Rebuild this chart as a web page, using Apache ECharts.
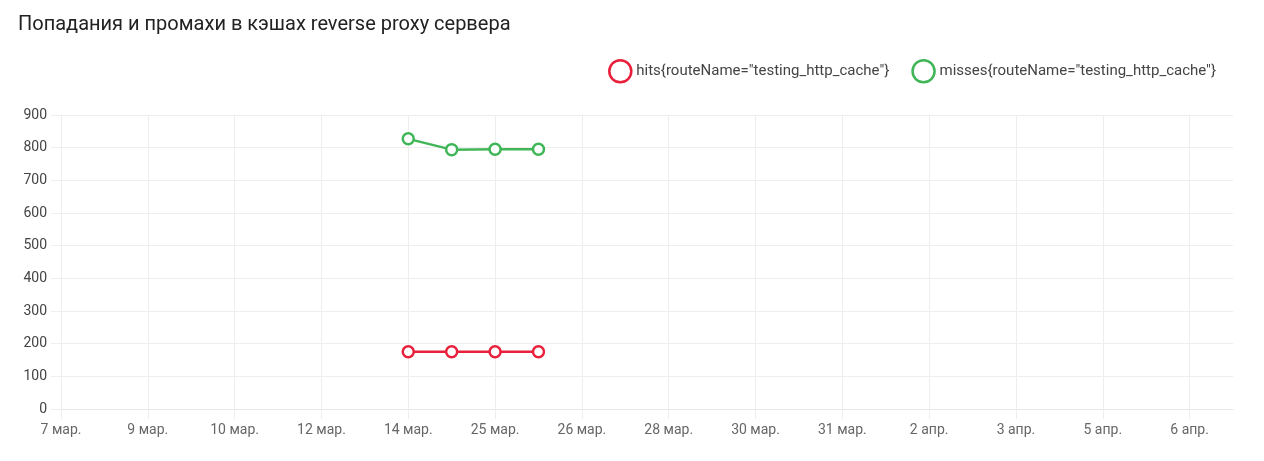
<!DOCTYPE html>
<html>
<head>
<meta charset="utf-8">
<script src="https://cdn.jsdelivr.net/npm/echarts@6/dist/echarts.min.js"></script>
<style>
  html, body {margin: 0; padding: 0; background: #fff;}
  #chart {width: 1264px; height: 461px;}
</style>
</head>
<body>
<div id="chart"></div>
<script>
// даты по оси X (подписаны только чётные)
const dates = [
    '7 мар.', '8 мар.', '9 мар.', '9 мар.', '10 мар.', '11 мар.', '12 мар.', '13 мар.',
    '14 мар.', '24 мар.', '25 мар.', '25 мар.', '26 мар.', '27 мар.', '28 мар.', '29 мар.',
    '30 мар.', '30 мар.', '31 мар.', '1 апр.', '2 апр.', '2 апр.', '3 апр.', '4 апр.',
    '5 апр.', '5 апр.', '6 апр.', '7 апр.'
];
const hitsName = 'hits{routeName="testing_http_cache"}';
const missesName = 'misses{routeName="testing_http_cache"}';
const hits = [null, null, null, null, null, null, null, null, 175, 175, 175, 175];
const misses = [null, null, null, null, null, null, null, null, 827, 794, 795, 795];
const yTicks = [0, 900, 100];

const red = '#e8203c';
const green = '#41b658';
const font = 'Roboto, sans-serif';

let chart = echarts.init(document.getElementById('chart'));

chart.setOption({
    animation: false,
    title: {
        text: 'Попадания и промахи в кэшах reverse proxy сервера',
        left: 13,
        top: 10,
        textStyle: {
            color: '#222',
            fontSize: 20,
            fontWeight: 'normal',
            fontFamily: font
        }
    },
    legend: {
        right: 43,
        top: 54,
        icon: 'circle',
        itemWidth: 22,
        itemHeight: 22,
        itemGap: 22,
        textStyle: {color: '#444', fontSize: 15, fontFamily: font},
        data: [
            {name: hitsName, itemStyle: {color: '#fff', borderColor: red, borderWidth: 2.5}},
            {name: missesName, itemStyle: {color: '#fff', borderColor: green, borderWidth: 2.5}}
        ]
    },
    grid: {
        left: 61,
        right: 31,
        top: 115,
        bottom: 52
    },
    xAxis: {
        type: 'category',
        data: dates,
        boundaryGap: false,
        axisLine: {lineStyle: {color: '#e6e6e6'}},
        axisTick: {show: true, interval: 1, length: 10, lineStyle: {color: '#eeeeee'}},
        axisLabel: {interval: 1, color: '#666', fontSize: 14, fontFamily: font, margin: 14},
        splitLine: {show: true, interval: 1, lineStyle: {color: '#eeeeee'}}
    },
    yAxis: {
        type: 'value',
        min: yTicks[0],
        max: yTicks[1],
        interval: yTicks[2],
        axisLine: {show: false},
        axisTick: {show: true, length: 10, lineStyle: {color: '#eeeeee'}},
        axisLabel: {color: '#444', fontSize: 14, fontFamily: font, margin: 14},
        splitLine: {lineStyle: {color: '#eeeeee'}}
    },
    series: [
        {
            name: hitsName,
            type: 'line',
            data: hits,
            color: red,
            symbol: 'circle',
            symbolSize: 11,
            showAllSymbol: true,
            lineStyle: {width: 2.5, color: red},
            itemStyle: {color: '#fff', borderColor: red, borderWidth: 2.5}
        },
        {
            name: missesName,
            type: 'line',
            data: misses,
            color: green,
            symbol: 'circle',
            symbolSize: 11,
            showAllSymbol: true,
            lineStyle: {width: 2.5, color: green},
            itemStyle: {color: '#fff', borderColor: green, borderWidth: 2.5}
        }
    ]
});
</script>
</body>
</html>
